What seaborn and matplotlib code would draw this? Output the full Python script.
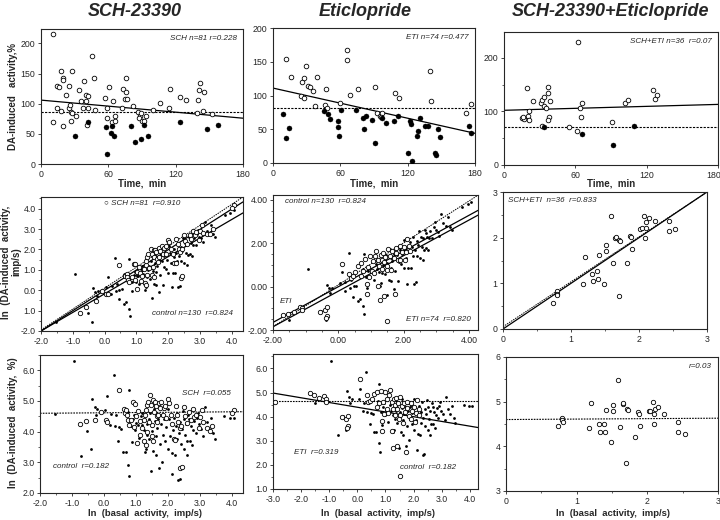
import numpy as np
import pandas as pd
import matplotlib
matplotlib.use("Agg")
import matplotlib.pyplot as plt
from matplotlib.ticker import MultipleLocator
import matplotlib.transforms as mtransforms
import seaborn as sns

# ---------------- Row 1 : time course (time min, DA-induced activity %) ----------------
sch_time_open = [(11,215),(18,155),(28,155),(20,143),(20,139),(14,129),(16,127),(25,129),(22,115),(38,137),
                 (45,179),(47,143),(34,123),(36,104),(40,104),(40,115),(42,113),(25,93),(14,93),(18,88),
                 (27,87),(28,84),(26,98),(31,80),(37,93),(42,93),(48,90),(27,72),(11,69),(20,63),(41,65),
                 (57,109),(61,128),(64,104),(59,93),(59,76),(63,69),(66,79),(66,71),(73,124),(76,143),
                 (76,119),(75,108),(77,108),(72,93),(82,97),(86,87),(88,79),(89,84),(87,76),(90,71),
                 (92,71),(94,79),(100,90),(106,102),(114,93),(115,124),(124,111),(129,107),(140,106),
                 (142,134),(141,122),(145,119),(144,88),(139,84),(152,83)]
sch_time_filled = [(30,47),(42,69),(58,61),(59,17),(62,51),(63,63),(65,47),(80,63),(84,36),(89,41),
                   (92,65),(95,46),(124,69),(148,58),(158,64)]
eti_time_open = [(12,154),(16,127),(29,144),(26,120),(28,126),(25,99),(28,97),(31,114),(33,112),(39,127),
                 (36,106),(37,85),(47,110),(46,86),(48,82),(60,89),(66,153),(66,167),(69,101),(76,109),
                 (91,113),(109,103),(112,97),(93,74),(95,70),(97,74),(96,68),(140,136),(141,92),
                 (172,74),(176,88)]
eti_time_filled = [(9,72),(12,37),(14,52),(45,77),(49,73),(51,65),(58,62),(58,53),(59,40),(61,79),(74,79),
                   (80,66),(81,50),(83,70),(88,63),(91,30),(97,67),(101,60),(108,62),(111,69),(120,15),
                   (122,62),(123,58),(124,3),(128,40),(129,47),(131,67),(135,55),(138,55),(144,15),
                   (145,12),(147,51),(149,38),(175,55),(176,45)]
se_time_open = [(15,88),(17,85),(16,90),(19,143),(20,91),(21,101),(21,83),(24,120),(31,115),(32,122),
                (34,127),(34,110),(35,107),(37,146),(37,135),(38,90),(37,83),(39,119),(32,73),(62,230),
                (66,115),(64,107),(65,89),(55,71),(61,64),(91,81),(102,116),(104,121),(125,139),
                (127,123),(129,130)]
se_time_filled = [(34,70),(66,57),(92,37),(109,73)]

# regression / reference lines, row 1 (time 0 -> 180)
time_ends = [0, 180]
sch_time_fit = [106, 76]
sch_time_ref = [86, 86]
eti_time_fit = [111, 44]
eti_time_ref = [82, 82]
se_time_fit = [102, 113]
se_time_ref = [70, 70]

# ---------------- Rows 2/3 : ln(basal activity) vs ln(DA-induced activity, %) ----------------
control_log = [(-1.52,4.58),(-0.92,6.32),(-0.70,3.22),(-0.52,4.02),(-0.39,3.45),(-0.36,5.05),(-0.29,4.82),
               (-0.20,4.75),(0.11,5.15),(0.20,4.22),(0.22,4.58),(0.32,5.85),(0.36,4.20),(0.45,3.70),
               (0.47,4.15),(0.55,4.10),(0.78,5.35),(0.60,3.35),(0.68,3.35),(0.75,4.65),(0.77,2.92),
               (0.80,2.55),(0.85,4.18),(0.88,3.67),(0.95,4.55),(0.98,4.05),(1.02,4.28),(1.06,4.22),
               (1.10,3.80),(1.15,4.50),(1.20,4.22),(1.28,3.35),(1.32,3.45),(1.36,4.25),(1.40,4.40),
               (1.42,3.75),(1.45,4.60),(1.48,2.72),(1.50,4.20),(1.55,3.38),(1.58,4.75),(1.60,4.35),
               (1.63,3.85),(1.66,4.12),(1.70,4.40),(1.72,2.80),(1.75,3.60),(1.80,4.25),(1.83,3.02),
               (1.86,3.90),(1.90,4.50),(1.93,3.70),(1.96,4.15),(2.00,3.45),(2.05,4.40),(2.08,3.85),
               (2.12,2.62),(2.15,3.30),(2.18,4.05),(2.20,4.45),(2.22,3.25),(2.25,4.20),(2.28,3.75),
               (2.32,2.42),(2.35,3.95),(2.38,2.45),(2.40,4.30),(2.42,3.60),(2.45,4.10),(2.50,3.45),
               (2.52,4.40),(2.55,3.90),(2.58,4.25),(2.62,3.70),(2.65,4.55),(2.70,3.70),(2.72,4.20),
               (2.78,4.05),(2.82,4.35),(2.88,3.95),(2.92,4.45),(2.98,4.25),(3.05,4.10),(3.10,3.85),
               (3.16,4.80),(3.22,4.30),(3.30,4.10),(3.35,4.45),(3.42,3.95),(3.48,3.75),(3.78,4.50),
               (3.96,4.45),(4.08,4.45),(1.35,3.90),(0.92,4.42),(1.18,4.62),(1.52,4.02),(1.78,4.55),
               (2.02,4.75),(2.30,4.62),(2.48,4.68),(2.68,4.42),(2.95,4.62),(1.62,3.25),(0.38,4.55),
               (-0.25,4.55),(0.05,4.72),(1.25,4.05),(2.60,3.25),(1.88,4.40),(2.75,3.55)]
sch_log = [(-0.76,4.25),(-0.57,4.34),(-0.28,4.38),(-0.09,4.65),(0.06,4.38),(0.10,4.32),(0.47,5.37),
           (0.64,4.73),(0.66,4.62),(0.70,4.70),(0.72,4.55),(0.75,4.38),(0.78,4.22),(0.86,4.38),
           (0.92,4.98),(0.97,4.90),(1.02,4.50),(1.08,4.68),(1.12,4.35),(1.18,4.12),(1.25,4.38),
           (1.30,4.55),(1.32,4.72),(1.35,4.86),(1.38,4.98),(1.45,5.20),(1.48,4.88),(1.52,4.22),
           (1.55,5.02),(1.57,4.65),(1.60,4.98),(1.62,4.85),(1.65,4.50),(1.67,4.30),(1.70,4.55),
           (1.72,4.95),(1.75,4.78),(1.80,4.96),(1.85,4.55),(1.88,4.78),(1.93,4.84),(2.00,5.06),
           (2.04,4.92),(1.14,3.90),(1.27,3.68),(1.32,3.55),(1.03,3.62),(1.35,3.98),(1.50,3.85),
           (1.55,3.68),(2.19,3.75),(2.24,3.72),(2.30,4.55),(2.33,4.30),(2.38,4.12),(2.43,4.20),
           (2.53,4.50),(2.60,4.28),(2.68,4.65),(2.73,4.38),(2.78,4.75),(2.84,4.48),(2.89,4.55),
           (2.97,4.12),(3.02,4.48),(3.06,4.72),(3.10,4.30),(3.24,4.12),(3.32,4.02),(3.40,4.20),
           (4.08,4.70),(4.02,4.62),(2.40,2.82),(2.45,2.85),(1.95,4.45),(2.10,4.55),(2.15,4.25),
           (0.95,4.15),(1.40,4.30),(2.50,4.80),(2.25,4.85)]
eti_log = [(-2.94,4.62),(-1.70,5.00),(-1.53,4.88),(-1.35,4.78),(-1.18,4.85),(-1.11,4.72),(-1.10,4.62),
           (-0.55,3.98),(-0.40,3.92),(-0.35,4.02),(-0.35,3.60),(-0.38,3.52),(0.10,5.57),(0.33,4.88),
           (0.39,4.60),(0.45,4.66),(0.52,4.75),(0.60,4.95),(0.70,5.02),(0.76,4.55),(0.83,5.06),
           (0.92,4.60),(0.98,5.02),(1.04,4.30),(1.06,4.75),(1.12,4.88),(1.16,5.10),(1.22,4.62),
           (1.26,4.30),(1.30,4.75),(1.34,4.48),(1.38,4.79),(1.41,4.32),(1.44,4.55),(1.50,4.08),
           (1.52,4.82),(1.58,4.45),(1.65,4.58),(1.71,4.20),(1.77,4.38),(1.83,4.02),(1.89,4.58),
           (1.95,4.25),(2.00,4.42),(2.07,4.15),(2.12,4.68),(2.18,4.30),(0.87,3.84),(0.87,3.40),
           (1.22,3.42),(1.28,2.70),(1.40,2.77),(1.73,2.52),(1.50,1.52),(1.48,3.90),(1.62,3.75),
           (0.95,4.12),(1.10,4.15),(1.90,3.92),(2.05,3.80),(1.35,4.05),(1.78,4.62),(2.20,4.05),
           (0.70,4.40)]
se_log = [(0.73,4.45),(0.79,4.64),(0.79,4.58),(0.80,4.54),(1.20,4.98),(1.17,4.42),(1.31,4.51),
          (1.33,4.32),(1.38,4.49),(1.40,4.31),(1.41,4.82),(1.49,4.10),(1.52,4.92),(1.52,4.79),
          (1.59,5.48),(1.62,4.43),(1.65,4.94),(1.66,4.96),(1.71,4.84),(1.72,4.81),(1.83,4.21),
          (1.90,4.45),(1.87,4.77),(1.88,4.73),(1.70,3.63),(2.02,4.78),(2.04,4.78),(2.08,5.00),
          (2.10,4.72),(2.09,4.51),(2.11,4.84),(2.15,4.88),(2.24,4.72),(2.44,4.54),(2.44,4.32),
          (2.53,4.27)]
LN100 = np.log(100.0)

# row 2 lines (x ends, y ends)
p4_x = [-2.0, 4.36]
p4_dotted = [-1.95, 4.57]
p4_solid_a = [-2.0, 4.33]
p4_solid_b = [-2.0, 3.79]
p5_x = [-2.0, 4.28]
p5_dotted = [-1.85, 4.22]
p5_solid_a = [-1.65, 3.52]
p5_solid_b = [-1.85, 3.30]
p6_x = [0.0, 3.0]
p6_dotted = [0.05, 3.0]
p6_solid = [0.0, 3.0]
# row 3 lines
p7_x = [-2.0, 4.36]
p7_dotted = [4.60, 4.65]
p8_x = [-3.0, 4.29]
p8_solid = [4.98, 3.55]
p8_dotted = [4.66, 4.66]
p9_x = [0.0, 3.0]
p9_dotted = [4.60, 4.63]

# ---------------- style ----------------
sns.set_style("ticks")
plt.rcParams["font.family"] = ["Liberation Sans", "DejaVu Sans"]
plt.rcParams["axes.linewidth"] = 0.8

W, H = 720, 520
fig = plt.figure(figsize=(7.2, 5.2), dpi=100)


def make_ax(l, r, t, b):
    return fig.add_axes([l / W, 1 - b / H, (r - l) / W, (b - t) / H])


def pairs_df(pairs):
    return pd.DataFrame(pairs, columns=["x", "y"])


def open_pts(ax, df, s=11):
    sns.scatterplot(data=df, x="x", y="y", ax=ax, marker="o", s=s, color="white",
                    edgecolor="black", linewidth=0.6, zorder=3, legend=False)


def filled_pts(ax, df, s=13):
    sns.scatterplot(data=df, x="x", y="y", ax=ax, marker="o", s=s, color="black",
                    edgecolor="black", linewidth=0.3, zorder=3, legend=False)


def dots(ax, df):
    sns.scatterplot(data=df, x="x", y="y", ax=ax, marker="o", s=4, color="black",
                    linewidth=0, zorder=3, legend=False)


def line(ax, xs, ys, ls="-", lw=0.9):
    sns.lineplot(x=xs, y=ys, ax=ax, color="black", linestyle=ls, linewidth=lw, zorder=2)


def style(ax, xlim, ylim, xticks, xlabels, yticks, ylabels, xminor=None, yminor=None):
    ax.set_xlim(*xlim)
    ax.set_ylim(*ylim)
    ax.set_xticks(xticks)
    ax.set_xticklabels(xlabels)
    ax.set_yticks(yticks)
    ax.set_yticklabels(ylabels)
    if xminor:
        ax.xaxis.set_minor_locator(MultipleLocator(xminor))
    if yminor:
        ax.yaxis.set_minor_locator(MultipleLocator(yminor))
    ax.set_xlabel("")
    ax.set_ylabel("")
    ax.tick_params(which="major", direction="out", length=2.5, width=0.6, labelsize=6.3, pad=1.5)
    ax.tick_params(which="minor", direction="out", length=1.6, width=0.5)
    for sp in ax.spines.values():
        sp.set_visible(True)
        sp.set_linewidth(0.8)


def note(ax, x, y, s, ha="left"):
    ax.text(x, y, s, transform=ax.transAxes, fontsize=5.8, style="italic", ha=ha, va="center",
            family=["Liberation Sans", "DejaVu Sans"])


# ---------- Row 1 ----------
ax1 = make_ax(41, 243, 29, 164)
open_pts(ax1, pairs_df(sch_time_open))
filled_pts(ax1, pairs_df(sch_time_filled))
line(ax1, time_ends, sch_time_fit)
line(ax1, time_ends, sch_time_ref, ls=(0, (2, 1.2)), lw=0.8)
style(ax1, (0, 180), (0, 224), [0, 60, 120, 180], ["0", "60", "120", "180"],
      [0, 50, 100, 150, 200], ["0", "50", "100", "150", "200"])
note(ax1, 0.97, 0.93, "SCH n=81 r=0.228", ha="right")

ax2 = make_ax(273, 475, 28, 163)
open_pts(ax2, pairs_df(eti_time_open))
filled_pts(ax2, pairs_df(eti_time_filled))
line(ax2, time_ends, eti_time_fit)
line(ax2, time_ends, eti_time_ref, ls=(0, (2, 1.2)), lw=0.8)
style(ax2, (0, 180), (0, 200), [0, 60, 120, 180], ["0", "60", "120", "180"],
      [0, 50, 100, 150, 200], ["0", "50", "100", "150", "200"])
note(ax2, 0.97, 0.93, "ETI n=74 r=0.477", ha="right")

ax3 = make_ax(504, 718, 32, 165)
open_pts(ax3, pairs_df(se_time_open))
filled_pts(ax3, pairs_df(se_time_filled))
line(ax3, time_ends, se_time_fit)
line(ax3, time_ends, se_time_ref, ls=(0, (2, 1.2)), lw=0.8)
style(ax3, (0, 180), (0, 248), [0, 60, 120, 180], ["0", "60", "120", "180"],
      [0, 100, 200], ["0", "100", "200"], yminor=50)
note(ax3, 0.97, 0.93, "SCH+ETI n=36  r=0.07", ha="right")
# keep the last tick label inside the figure
lbl = ax3.get_xticklabels()[-1]
lbl.set_transform(lbl.get_transform() + mtransforms.ScaledTranslation(-4 / 100, 0, fig.dpi_scale_trans))


def row2(pairs):
    return pd.DataFrame({"x": [p[0] for p in pairs],
                         "y": [p[1] + p[0] - LN100 for p in pairs]})


# ---------- Row 2 ----------
ax4 = make_ax(41, 243, 197, 331)
dots(ax4, row2(control_log))
open_pts(ax4, row2(sch_log), s=10)
line(ax4, p4_x, p4_dotted, ls=(0, (1.5, 1)), lw=0.7)
line(ax4, p4_x, p4_solid_a)
line(ax4, p4_x, p4_solid_b)
style(ax4, (-2, 4.36), (-2, 4.57), [-2, -1, 0, 1, 2, 3, 4],
      ["-2.0", "-1.0", "0.0", "1.0", "2.0", "3.0", "4.0"],
      [-2, -1, 0, 1, 2, 3, 4], ["-2.0", "1.0", "0.0", "1.0", "2.0", "3.0", "4.0"],
      xminor=0.5, yminor=0.5)
note(ax4, 0.31, 0.955, "\u25cb SCH n=81  r=0.910")
note(ax4, 0.55, 0.127, "control n=130  r=0.824")

ax5 = make_ax(273, 478, 195, 330)
dots(ax5, row2(control_log))
open_pts(ax5, row2(eti_log), s=10)
line(ax5, p5_x, p5_dotted, ls=(0, (1.5, 1)), lw=0.7)
line(ax5, p5_x, p5_solid_a)
line(ax5, p5_x, p5_solid_b)
style(ax5, (-2, 4.28), (-2, 4.23), [-2, 0, 2, 4], ["-2.00", "0.00", "2.00", "4.00"],
      [-2, 0, 2, 4], ["-2.00", "0.00", "2.00", "4.00"], xminor=0.5, yminor=0.5)
note(ax5, 0.06, 0.95, "control n=130  r=0.824")
note(ax5, 0.035, 0.21, "ETI")
note(ax5, 0.65, 0.08, "ETI n=74  r=0.820")

ax6 = make_ax(503, 707, 192, 329)
open_pts(ax6, row2(se_log), s=10)
line(ax6, p6_x, p6_dotted, ls=(0, (1.5, 1)), lw=0.7)
line(ax6, p6_x, p6_solid)
style(ax6, (0, 3), (0, 3), [0, 1, 2, 3], ["0", "1", "2", "3"],
      [0, 1, 2, 3], ["0", "1", "2", "3"], xminor=0.5, yminor=0.5)
note(ax6, 0.025, 0.94, "SCH+ETI  n=36  r=0.833")

# ---------- Row 3 ----------
ax7 = make_ax(40, 243, 355, 493)
dots(ax7, pairs_df(control_log))
open_pts(ax7, pairs_df(sch_log), s=10)
line(ax7, p7_x, p7_dotted, ls=(0, (1.5, 1)), lw=0.8)
style(ax7, (-2, 4.36), (2, 6.5), [-2, -1, 0, 1, 2, 3, 4],
      ["-2.0", "-1.0", "0.0", "1.0", "2.0", "3.0", "4.0"],
      [2, 3, 4, 5, 6], ["2.0", "3.0", "4.0", "5.0", "6.0"], xminor=0.5, yminor=0.5)
note(ax7, 0.70, 0.72, "SCH  r=0.055")
note(ax7, 0.065, 0.19, "control  r=0.182")

ax8 = make_ax(273, 478, 354, 489)
dots(ax8, pairs_df(control_log))
open_pts(ax8, pairs_df(eti_log), s=10)
line(ax8, p8_x, p8_solid)
line(ax8, p8_x, p8_dotted, ls=(0, (1.5, 1)), lw=0.8)
style(ax8, (-3, 4.29), (1, 6.6), [-3, -2, -1, 0, 1, 2, 3, 4],
      ["-3.0", "-2.0", "-1.0", "0.0", "1.0", "2.0", "3.0", "4.0"],
      [1, 2, 3, 4, 5, 6], ["1.0", "2.0", "3.0", "4.0", "5.0", "6.0"], xminor=0.5, yminor=0.5)
note(ax8, 0.10, 0.27, "ETI  r=0.319")
note(ax8, 0.62, 0.16, "control  r=0.182")

ax9 = make_ax(506, 718, 357, 491)
open_pts(ax9, pairs_df(se_log), s=10)
line(ax9, p9_x, p9_dotted, ls=(0, (1.5, 1)), lw=0.8)
style(ax9, (0, 3), (3, 6), [0, 1, 2, 3], ["0", "1", "2", "3"],
      [3, 4, 5, 6], ["3", "4", "5", "6"], xminor=0.5, yminor=0.5)
note(ax9, 0.97, 0.93, "r=0.03", ha="right")

# ---------- titles and labels ----------
tkw = dict(fontsize=13, fontweight="bold", style="italic", ha="center", va="center")
fig.text(135 / W, 1 - 12 / H, "SCH-23390", **tkw)
fig.text(365 / W, 1 - 12 / H, "Eticlopride", **tkw)
fig.text(611 / W, 1 - 12 / H, "SCH-23390+Eticlopride", **tkw)

lkw = dict(fontsize=7, fontweight="bold", ha="center", va="center")
for cx in (142, 374, 611):
    fig.text(cx / W, 1 - 183 / H, "Time,  min", **lkw)
for cx in (145, 378, 613):
    fig.text(cx / W, 1 - 514 / H, "ln  (basal  activity,  imp/s)", fontsize=6.8,
             fontweight="bold", ha="center", va="center")
fig.text(13 / W, 1 - 97 / H, "DA-induced   activity,%", rotation=90, **lkw)
fig.text(6 / W, 1 - 262 / H, "ln  (DA-induced  activity,", rotation=90, **lkw)
fig.text(16 / W, 1 - 262 / H, "imp/s)", rotation=90, **lkw)
fig.text(13 / W, 1 - 423 / H, "ln  (DA-induced  activity,  %)", rotation=90, **lkw)

fig.savefig("out.png", dpi=100)
